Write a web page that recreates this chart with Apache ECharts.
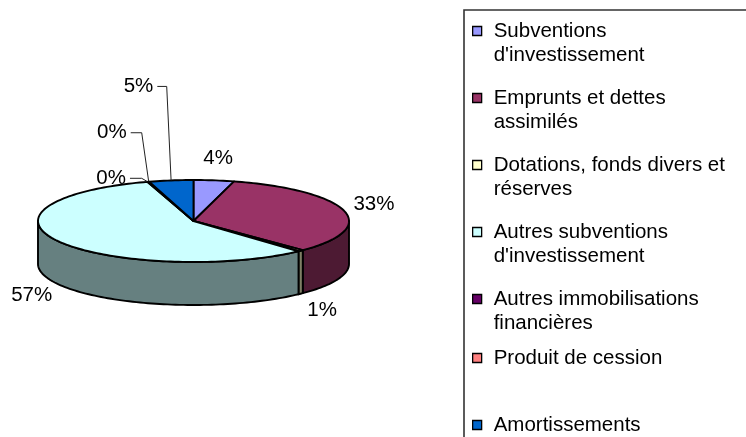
<!DOCTYPE html>
<html><head><meta charset="utf-8">
<script src="https://cdn.jsdelivr.net/npm/echarts@6/dist/echarts.min.js"></script>
<style>html,body{margin:0;padding:0;background:#fff}#c{width:746px;height:437px}</style>
</head><body><div id="c"></div>
<script>
// ---- data ----
const categories = ["Subventions d'investissement", "Emprunts et dettes assimilés", "Dotations, fonds divers et réserves", "Autres subventions d'investissement", "Autres immobilisations financières", "Produit de cession", "Amortissements"];
const values = [4.2, 33.4, 0.6, 57.0, 0.1, 0.1, 4.6];

// ---- styles / layout ----
const topColors = ['#9999FF', '#993366', '#FFFFCC', '#CCFFFF', '#660066', '#FF8080', '#0066CC'];
const sideColors = ['#4D4D80', '#4D1A33', '#808066', '#668080', '#330033', '#804040', '#003366'];
const FONT = "'Liberation Sans', Arial, sans-serif";
const FS = 20.5;
const DEPTH = 43 / 41;            // pie thickness in y-axis units
const LABEL_KX = 1.2, LABEL_KY = 1.55;
const leaderLayout = {
  4: { dx: -17.8, dy: -3.5, elbow: 11.7 },
  5: { dx: -18, dy: -49, elbow: 11 },
  6: { dx: -13.8, dy: -94, elbow: 9.4 }
};
const legendPad = [[24, 0], [24, 0], [24, 0], [24, 0], [24, 0], [16, 16], [32, 32]];

const ctx2d = document.createElement('canvas').getContext('2d');
ctx2d.font = FS + 'px ' + FONT;
function wrap(s, maxW) {
  const words = s.split(' '); const lines = []; let cur = '';
  words.forEach(w => {
    const t = cur ? cur + ' ' + w : w;
    if (cur && ctx2d.measureText(t).width > maxW) { lines.push(cur); cur = w; } else cur = t;
  });
  if (cur) lines.push(cur);
  return lines.join('\n');
}

const total = values.reduce((a, b) => a + b, 0);
const starts = []; let acc = 0; values.forEach(v => { starts.push(acc); acc += v; });

function arcPts(api, a0, a1, yOff) {
  const n = Math.max(2, Math.ceil((a1 - a0) / (Math.PI / 120)));
  const pts = [];
  for (let k = 0; k <= n; k++) {
    const a = a0 + (a1 - a0) * k / n;
    pts.push(api.coord([Math.sin(a), Math.cos(a) - yOff]));
  }
  return pts;
}

function renderSlice(i) {
  return function (params, api) {
    const v = api.value(0);
    const a0 = starts[i] / total * 2 * Math.PI;
    const a1 = a0 + v / total * 2 * Math.PI;
    const children = [];
    const line = { stroke: '#000', lineWidth: 1.9, lineJoin: 'round' };
    const s = Math.max(a0, Math.PI / 2), e = Math.min(a1, 3 * Math.PI / 2);
    if (e > s) {
      const topP = arcPts(api, s, e, 0);
      const botP = arcPts(api, s, e, DEPTH).reverse();
      children.push({ type: 'polygon', shape: { points: topP.concat(botP) }, style: Object.assign({ fill: sideColors[i] }, line) });
    }
    const face = [api.coord([0, 0])].concat(arcPts(api, a0, a1, 0));
    children.push({ type: 'polygon', shape: { points: face }, style: Object.assign({ fill: topColors[i] }, line) });

    const mid = (a0 + a1) / 2;
    const pct = Math.round(v / total * 100) + '%';
    const L = leaderLayout[i];
    const txt = { fontSize: FS, fontFamily: FONT, fill: '#000', verticalAlign: 'middle' };
    if (L) {
      const anc = api.coord([Math.sin(mid), Math.cos(mid)]);
      const end = [anc[0] + L.dx, anc[1] + L.dy];
      children.push({ type: 'polyline', shape: { points: [anc, [end[0] + L.elbow, end[1]], end] }, style: { stroke: '#222', lineWidth: 1, fill: null } });
      children.push({ type: 'text', style: Object.assign({ text: pct, x: end[0] - 4, y: end[1], align: 'right' }, txt) });
    } else {
      const c = Math.cos(mid);
      const p = api.coord([LABEL_KX * Math.sin(mid), LABEL_KY * c - (c < 0 ? DEPTH : 0)]);
      children.push({ type: 'text', style: Object.assign({ text: pct, x: p[0], y: p[1], align: 'center' }, txt) });
    }
    return { type: 'group', children: children };
  };
}

const chart = echarts.init(document.getElementById('c'), null, { renderer: 'canvas' });
chart.setOption({
  animation: false,
  backgroundColor: '#fff',
  grid: { left: 38, width: 311, top: 180, height: 164 },
  xAxis: { type: 'value', min: -1, max: 1, show: false },
  yAxis: { type: 'value', min: -3, max: 1, show: false },
  legend: {
    orient: 'vertical', left: 472, top: -5, height: 800, padding: 0, itemGap: -5,
    itemWidth: 9, itemHeight: 9, icon: 'rect', selectedMode: false,
    itemStyle: { borderColor: '#000', borderWidth: 1.3 },
    formatter: name => '{n|' + wrap(name, 240) + '}',
    textStyle: {
      fontSize: FS, lineHeight: 24, fontFamily: FONT, color: '#000',
      backgroundColor: 'rgba(255,255,255,0)',
      rich: { n: { fontSize: FS, lineHeight: 24, fontFamily: FONT, color: '#000' } }
    },
    data: categories.map((c, i) => ({ name: c, textStyle: { padding: [legendPad[i][0], 0, legendPad[i][1], 7] } }))
  },
  graphic: [{
    type: 'rect', silent: true, z: -10,
    shape: { x: 464, y: 10, width: 400, height: 500 },
    style: { fill: 'none', stroke: '#333', lineWidth: 1.6 }
  }],
  series: categories.map((c, i) => ({
    type: 'custom', name: c, coordinateSystem: 'cartesian2d',
    itemStyle: { color: topColors[i] },
    silent: true,
    data: [[values[i]]],
    renderItem: renderSlice(i)
  }))
});
</script>
</body></html>
